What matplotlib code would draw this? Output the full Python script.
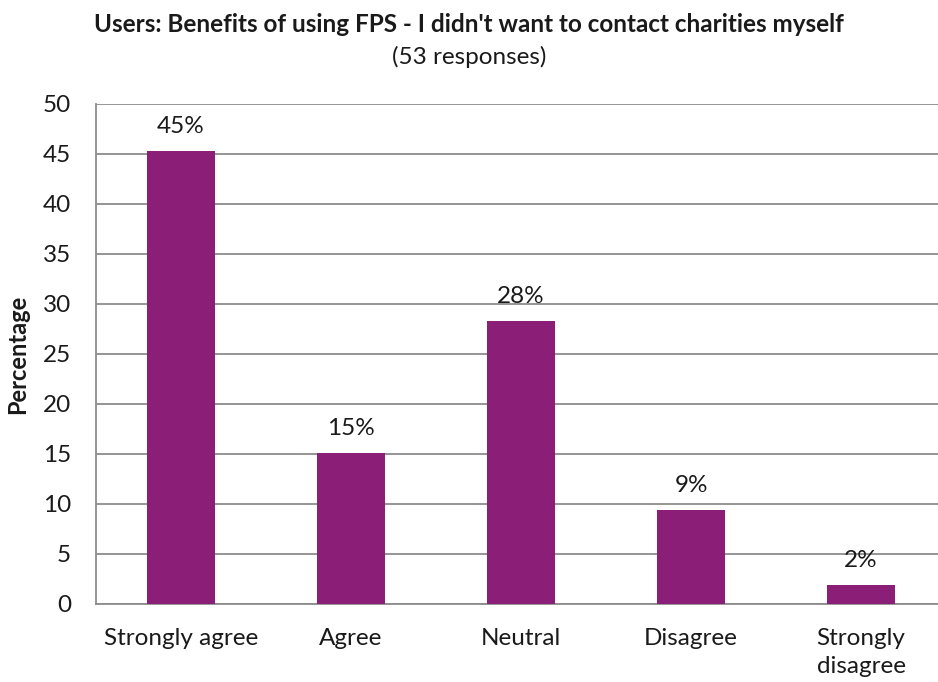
import matplotlib
matplotlib.use("Agg")
import matplotlib.pyplot as plt

categories = ["Strongly agree", "Agree", "Neutral", "Disagree", "Strongly\ndisagree"]
percentages = [45.3, 15.1, 28.3, 9.4, 1.9]
y_ticks = [0, 5, 10, 15, 20, 25, 30, 35, 40, 45, 50]

plt.rcParams["font.family"] = ["Lato", "DejaVu Sans"]

fig = plt.figure(figsize=(9.38, 6.82), dpi=100)
ax = fig.add_axes([96 / 938, 78 / 682, 850 / 938, 500 / 682])

bar_color = "#8B1F77"
grid_color = "#8C8C8C"
text_color = "#1a1a1a"
x = range(len(categories))
ax.bar(x, percentages, width=0.4, color=bar_color, zorder=3)

for xi, v in zip(x, percentages):
    ax.annotate(f"{v:.0f}%", (xi, v), xytext=(0, 13), textcoords="offset points",
                ha="center", va="baseline", fontsize=17.5, color=text_color)

ax.set_xlim(-0.5, len(categories) - 0.5)
ax.set_ylim(0, 50)
ax.set_yticks(y_ticks)
ax.set_xticks(list(x))
ax.set_xticklabels(categories, fontsize=17.5, color=text_color, linespacing=1.45)
ax.tick_params(axis="y", labelsize=17.5, colors=text_color, length=0, pad=18)
ax.tick_params(axis="x", length=0, pad=17)

ax.yaxis.grid(True, color=grid_color, linewidth=1.3, zorder=0)
ax.set_axisbelow(True)
for side in ["top", "right"]:
    ax.spines[side].set_visible(False)
ax.spines["left"].set_color(grid_color)
ax.spines["left"].set_linewidth(1.3)
ax.spines["bottom"].set_color(grid_color)
ax.spines["bottom"].set_linewidth(1.3)

ax.set_ylabel("Percentage", fontsize=17, fontweight="bold", labelpad=10, color=text_color)

fig.text(0.5, 1 - 24 / 682, "Users: Benefits of using FPS - I didn't want to contact charities myself",
         ha="center", va="center", fontsize=17.5, fontweight="bold", color=text_color)
fig.text(0.5, 1 - 57 / 682, "(53 responses)", ha="center", va="center", fontsize=17.5, color=text_color)

fig.savefig("out.png", dpi=100)
